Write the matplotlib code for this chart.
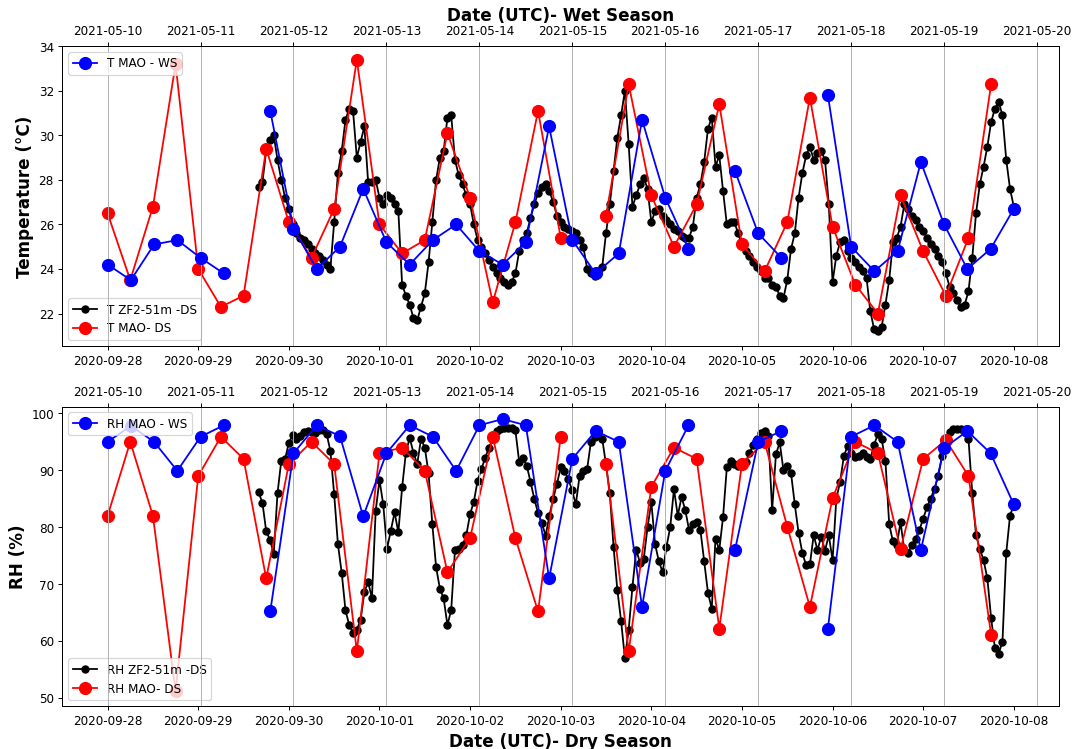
import numpy as np
import pandas as pd
import matplotlib
matplotlib.use("Agg")
import matplotlib.pyplot as plt
import matplotlib.dates as mdates

nan = np.nan

# MAO station, 6-hourly, wet season (from 2021-05-10 00:00 UTC)
ws_start = "2021-05-10 00:00"
t_mao_ws = [24.2, 23.5, 25.1, 25.3, 24.5, 23.8, nan, 31.1, 25.8, 24.0,
            25.0, 27.6, 25.2, 24.2, 25.3, 26.0, 24.8, 24.2, 25.2, 30.4,
            25.3, 23.8, 24.7, 30.7, 27.2, 24.9, nan, 28.4, 25.6, 24.5,
            nan, 31.8, 25.0, 23.9, 24.8, 28.8, 26.0, 24.0, 24.9, 26.7]
rh_mao_ws = [95.0, 97.8, 95.0, 89.9, 95.9, 97.9, nan, 65.2, 93.0, 97.9,
             96.0, 81.9, 93.0, 97.9, 95.9, 89.9, 97.9, 99.0, 97.9, 71.0,
             92.0, 96.9, 95.0, 66.0, 89.9, 97.9, nan, 76.0, 95.0, 96.9,
             nan, 62.2, 95.9, 97.9, 95.0, 76.0, 93.9, 96.9, 93.0, 84.0]

# MAO station, 6-hourly, dry season (from 2020-09-28 00:00 UTC)
ds_start = "2020-09-28 00:00"
t_mao_ds = [26.5, 23.5, 26.8, 33.2, 24.0, 22.3, 22.8, 29.4, 26.1, 24.5,
            26.7, 33.4, 26.0, 24.7, 25.3, 30.1, 27.2, 22.5, 26.1, 31.1,
            25.4, nan, 26.4, 32.3, 27.3, 25.0, 26.9, 31.4, 25.1, 23.9,
            26.1, 31.7, 25.9, 23.3, 22.0, 27.3, 24.8, 22.8, 25.4, 32.3]
rh_mao_ds = [82.0, 95.0, 82.0, 51.2, 89.0, 95.9, 92.0, 71.0, 91.1, 95.0,
             91.1, 58.2, 93.0, 94.0, 89.9, 72.1, 78.1, 95.9, 78.1, 65.2,
             95.9, nan, 91.1, 58.2, 87.1, 94.0, 92.0, 62.2, 91.1, 95.0,
             80.1, 66.0, 85.1, 95.0, 93.0, 76.1, 92.0, 95.3, 89.0, 61.1]

# ZF2 tower 51 m, hourly, dry season (from 2020-09-29 16:00 UTC)
zf2_start = "2020-09-29 16:00"
t_zf2_ds = [
    27.7, 27.9, 29.3, 29.8, 30.0, 28.9, 28.0, 27.2,
    26.7, 26.0, 25.6, 25.4, 25.3, 25.1, 24.9, 24.7,
    24.6, 24.4, 24.2, 24.0, 26.1, 28.3, 29.3, 30.7,
    31.2, 31.1, 29.0, 29.7, 30.4, 27.9, 27.9, 28.0,
    27.2, 26.9, 27.3, 27.2, 26.9, 26.6, 23.3, 22.8,
    22.4, 21.8, 21.7, 22.3, 22.9, 24.3, 26.1, 28.0,
    29.0, 29.3, 30.8, 30.9, 28.9, 28.2, 27.8, 27.3,
    26.9, 26.0, 25.3, 25.0, 24.7, 24.4, 24.1, 23.8,
    23.6, 23.4, 23.3, 23.4, 23.8, 24.8, 25.3, 25.6,
    26.3, 26.9, 27.4, 27.7, 27.8, 27.5, 27.0, 26.4,
    26.1, 25.9, 25.8, 25.7, 25.6, 25.3, 25.0, 24.0,
    23.8, 23.7, 23.8, 24.1, 25.6, 26.9, 28.4, 29.9,
    30.9, 32.0, 29.6, 26.8, 27.3, 27.8, 28.1, 27.6,
    26.1, 26.6, 26.7, 26.4, 26.2, 26.0, 25.8, 25.7,
    25.5, 25.4, 25.4, 25.9, 27.2, 27.8, 28.8, 30.3,
    30.8, 28.6, 29.1, 27.5, 26.0, 26.1, 26.1, 25.6,
    25.1, 24.8, 24.6, 24.3, 24.1, 23.9, 23.6, 23.6,
    23.3, 23.2, 22.8, 22.7, 23.5, 24.9, 25.6, 27.2,
    28.3, 29.1, 29.5, 28.9, 29.2, 29.3, 28.9, 26.9,
    23.4, 24.6, 25.2, 25.3, 24.8, 24.5, 24.3, 24.1,
    23.9, 23.6, 22.1, 21.3, 21.2, 21.4, 22.4, 23.5,
    25.2, 25.4, 25.9, 26.9, 26.7, 26.4, 26.2, 25.9,
    25.7, 25.4, 25.1, 24.9, 24.6, 24.3, 23.8, 23.2,
    22.9, 22.6, 22.3, 22.4, 23.0, 24.5, 26.5, 27.8,
    28.6, 29.5, 30.6, 31.2, 31.5, 30.9, 28.9, 27.6,
    26.8]
rh_zf2_ds = [
    86.1, 84.3, 79.3, 77.8, 75.3, 86.0, 91.7, 92.0,
    94.8, 96.2, 95.5, 96.0, 96.7, 96.9, 96.8, 96.6,
    97.1, 97.0, 96.4, 93.4, 85.8, 77.0, 72.0, 65.4,
    62.8, 61.5, 62.0, 63.7, 68.6, 70.4, 67.5, 82.9,
    88.3, 84.0, 76.2, 79.4, 82.6, 79.1, 87.0, 93.1,
    95.7, 93.1, 91.1, 95.5, 94.0, 89.5, 80.5, 73.0,
    69.2, 67.5, 62.8, 65.5, 76.0, 76.2, 76.8, 78.6,
    82.3, 84.5, 88.2, 90.2, 92.2, 94.0, 95.5, 96.9,
    97.3, 97.5, 97.5, 97.4, 97.0, 91.5, 92.2, 90.8,
    88.0, 85.0, 82.5, 80.8, 78.5, 82.0, 85.0, 87.6,
    90.5, 89.8, 88.5, 86.5, 84.0, 89.0, 89.9, 90.2,
    95.0, 95.8, 96.5, 95.5, 91.0, 86.0, 76.5, 69.0,
    63.5, 57.0, 62.0, 69.5, 76.0, 73.8, 74.5, 80.0,
    84.4, 77.0, 74.0, 72.1, 76.5, 80.0, 86.7, 82.0,
    85.3, 83.0, 79.5, 80.5, 81.0, 79.5, 74.0, 68.5,
    65.7, 78.0, 76.0, 81.8, 90.5, 91.7, 91.1, 90.8,
    91.2, 91.5, 93.0, 94.5, 95.5, 96.5, 96.9, 96.0,
    83.0, 92.8, 94.9, 90.0, 90.8, 89.5, 84.0, 79.0,
    75.5, 73.3, 73.5, 78.6, 76.0, 78.3, 75.9, 78.6,
    74.2, 85.0, 88.0, 92.5, 94.3, 93.0, 92.3, 92.5,
    93.0, 92.4, 92.0, 94.5, 96.3, 95.5, 91.7, 80.5,
    77.5, 76.8, 80.9, 76.0, 75.5, 76.8, 78.0, 79.5,
    81.5, 83.5, 85.0, 86.8, 89.0, 92.5, 95.5, 96.8,
    97.2, 97.3, 97.3, 96.8, 95.5, 86.0, 78.6, 76.2,
    74.2, 71.0, 64.0, 58.8, 57.8, 59.9, 75.5, 82.0,
    84.0]

ws_time = pd.date_range(ws_start, periods=len(t_mao_ws), freq="6h")
ds_time = pd.date_range(ds_start, periods=len(t_mao_ds), freq="6h")
zf2_time = pd.date_range(zf2_start, periods=len(t_zf2_ds), freq="1h")

panels = [
    ("T", "Temperature (°C)", t_zf2_ds, t_mao_ds, t_mao_ws, (20.55, 34.0)),
    ("RH", "RH (%)", rh_zf2_ds, rh_mao_ds, rh_mao_ws, (48.6, 101.2)),
]

fig = plt.figure(figsize=(1072.4 / 86, 749.4 / 86), dpi=86)
boxes = [[0.0581, 0.538, 0.9295, 0.3997], [0.0581, 0.0574, 0.9295, 0.3996]]

day_fmt = mdates.DateFormatter("%Y-%m-%d")

for i, (var, ylabel, zf2, mao_ds, mao_ws, ylim) in enumerate(panels):
    ax = fig.add_axes(boxes[i])
    ax.plot(zf2_time, zf2, "o-", color="black", markersize=6,
            label=f"{var} ZF2-51m -DS")
    ax.plot(ds_time, mao_ds, "o-", color="red", markersize=10,
            label=f"{var} MAO- DS")
    ax.set_ylim(*ylim)
    ax.set_ylabel(ylabel, fontsize=14, fontweight="bold")
    ax.xaxis.set_major_locator(mdates.DayLocator())
    ax.xaxis.set_major_formatter(day_fmt)
    ax.legend(loc="lower left", fontsize=10)

    top = ax.twiny()
    top.plot(ws_time, mao_ws, "o-", color="blue", markersize=10,
             label=f"{var} MAO - WS")
    top.xaxis.set_major_locator(mdates.DayLocator())
    top.xaxis.set_major_formatter(day_fmt)
    top.grid(True, axis="x")
    top.legend(loc="upper left", fontsize=10)

    if i == 0:
        top.set_xlabel("Date (UTC)- Wet Season", fontsize=14,
                       fontweight="bold")
    else:
        ax.set_xlabel("Date (UTC)- Dry Season", fontsize=14,
                      fontweight="bold")

fig.savefig("out.png", dpi=86)
